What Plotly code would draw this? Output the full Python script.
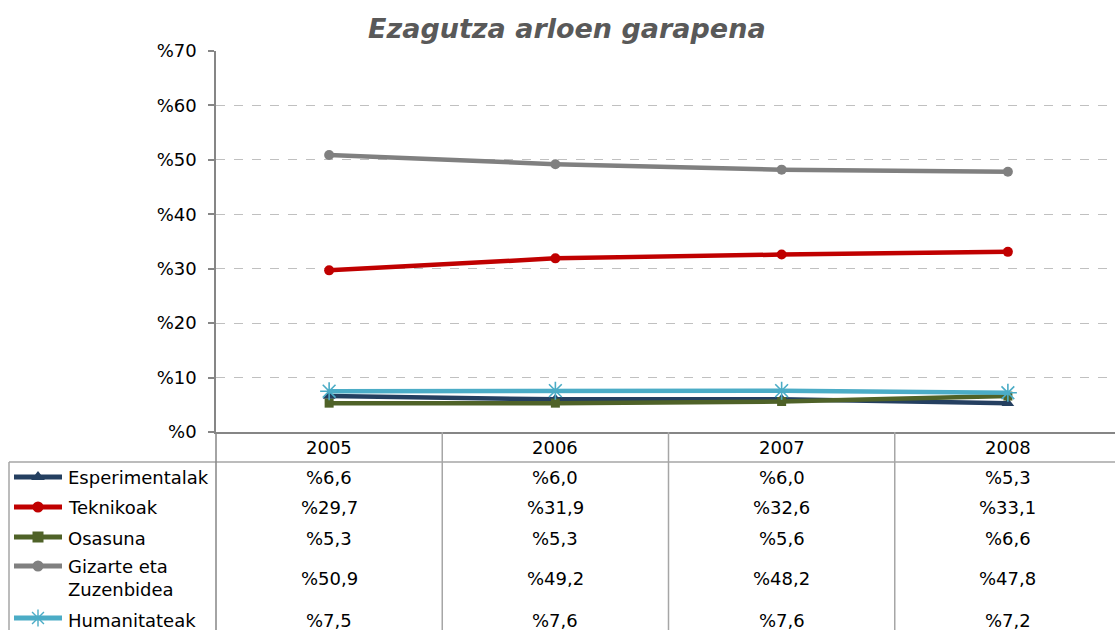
import plotly.graph_objects as go

years = ["2005", "2006", "2007", "2008"]
series_names = ["Esperimentalak", "Teknikoak", "Osasuna", "Gizarte eta<br>Zuzenbidea", "Humanitateak"]
esperimentalak = [6.6, 6.0, 6.0, 5.3]
teknikoak = [29.7, 31.9, 32.6, 33.1]
osasuna = [5.3, 5.3, 5.6, 6.6]
gizarte = [50.9, 49.2, 48.2, 47.8]
humanitateak = [7.5, 7.6, 7.6, 7.2]
y_ticks = [0, 10, 20, 30, 40, 50, 60, 70]

values = [esperimentalak, teknikoak, osasuna, gizarte, humanitateak]
colors = ["#243F60", "#C00000", "#4F6228", "#808080", "#4BACC6"]
symbols = ["triangle-up", "circle", "square", "circle", "asterisk-open"]
msizes = [11, 10, 9, 10, 15]

W, H = 1115, 630
PL, PT, PB = 216, 51, 432          # plot area left, top, bottom (pixels)
colw = 226.25
plot_w = W - PL
x_range = [-0.5, -0.5 + plot_w / colw]
FONT = "DejaVu Sans, Verdana, sans-serif"

fig = go.Figure()
xs = list(range(len(years)))
for name, vals, c, s, ms in zip(series_names, values, colors, symbols, msizes):
    mk = dict(symbol=s, size=ms, color=c)
    if s == "asterisk-open":
        mk["line"] = dict(color=c, width=1.6)
    fig.add_trace(go.Scatter(x=xs, y=vals, mode="lines+markers", name=name.replace("<br>", " "),
                             line=dict(color=c, width=4.5), marker=mk, showlegend=False,
                             cliponaxis=False, xaxis="x", yaxis="y"))


def colx(i):
    # pixel centre of category column i, from the main x axis scale
    return PL + (i - x_range[0]) * colw


grid_col = "#A6A6A6"
shapes = []
annotations = []
# header bottom line
shapes.append(dict(type="line", xref="x2", yref="y2", x0=9, x1=W, y0=462, y1=462,
                   line=dict(color=grid_col, width=1.5)))
# left border of legend column
shapes.append(dict(type="line", xref="x2", yref="y2", x0=9, x1=9, y0=462, y1=H + 5,
                   line=dict(color=grid_col, width=1.5)))
# vertical column separators
for i in range(len(years)):
    xb = colx(i) - colw / 2
    shapes.append(dict(type="line", xref="x2", yref="y2", x0=xb, x1=xb, y0=PB, y1=H + 5,
                       line=dict(color="#868686" if i == 0 else grid_col, width=1.5)))

# title
annotations.append(dict(text="<b><i>Ezagutza arloen garapena</i></b>", xref="x2", yref="y2",
                        x=567, y=28, showarrow=False, xanchor="center", yanchor="middle",
                        font=dict(family=FONT, size=27, color="#595959")))
# year headers
for i, yr in enumerate(years):
    annotations.append(dict(text=yr, xref="x2", yref="y2", x=colx(i), y=447, showarrow=False,
                            xanchor="center", yanchor="middle",
                            font=dict(family=FONT, size=18, color="#000000")))

row_y = [477, 507, 538, 578, 620]
swatch_y = [477, 507, 537, 566, 618]
for r, (name, vals, c, s) in enumerate(zip(series_names, values, colors, symbols)):
    yy = row_y[r]
    annotations.append(dict(text=name, xref="x2", yref="y2", x=66, y=yy,
                            showarrow=False, xanchor="left", yanchor="middle", align="left",
                            font=dict(family=FONT, size=18, color="#000000")))
    for i, v in enumerate(vals):
        txt = "%" + f"{v:.1f}".replace(".", ",")
        annotations.append(dict(text=txt, xref="x2", yref="y2", x=colx(i), y=yy, showarrow=False,
                                xanchor="center", yanchor="middle",
                                font=dict(family=FONT, size=18, color="#000000")))
    mk = dict(symbol=s, size=12 if s == "triangle-up" else (14 if s == "asterisk-open" else 11), color=c)
    if s == "asterisk-open":
        mk["line"] = dict(color=c, width=1.4)
    fig.add_trace(go.Scatter(x=[14, 62], y=[swatch_y[r], swatch_y[r]], mode="lines",
                             line=dict(color=c, width=5), showlegend=False, hoverinfo="skip",
                             xaxis="x2", yaxis="y2"))
    fig.add_trace(go.Scatter(x=[38], y=[swatch_y[r]], mode="markers", marker=mk,
                             showlegend=False, hoverinfo="skip", xaxis="x2", yaxis="y2"))

fig.update_layout(
    width=W, height=H,
    margin=dict(l=0, r=0, t=0, b=0, pad=0),
    paper_bgcolor="white", plot_bgcolor="rgba(0,0,0,0)",
    shapes=shapes, annotations=annotations,
    font=dict(family=FONT, size=18, color="#000000"),
    xaxis=dict(domain=[PL / W, 1], range=x_range, showgrid=False, zeroline=False,
               showticklabels=False, showline=True, linecolor="#868686", linewidth=1.5,
               ticks="", fixedrange=True, anchor="y", automargin=False),
    yaxis=dict(domain=[(H - PB) / H, (H - PT) / H], range=[0, 70], tickvals=y_ticks,
               ticktext=["%" + str(t) for t in y_ticks], anchor="x",
               showgrid=True, gridcolor="#C0C0C0", griddash="dash", gridwidth=1,
               zeroline=False, showline=True, linecolor="#868686", linewidth=1.5,
               ticks="outside", ticklen=6, tickcolor="#868686", tickwidth=1.5,
               ticklabelstandoff=8, automargin=False, fixedrange=True,
               tickfont=dict(family=FONT, size=18, color="#000000")),
    xaxis2=dict(domain=[0, 1], range=[0, W], visible=False, anchor="y2", fixedrange=True),
    yaxis2=dict(domain=[0, 1], range=[H, 0], visible=False, anchor="x2", fixedrange=True),
)

fig.write_html("out.html", config={"displayModeBar": False},
               post_script="document.body.style.margin='0';document.body.style.padding='0';")
